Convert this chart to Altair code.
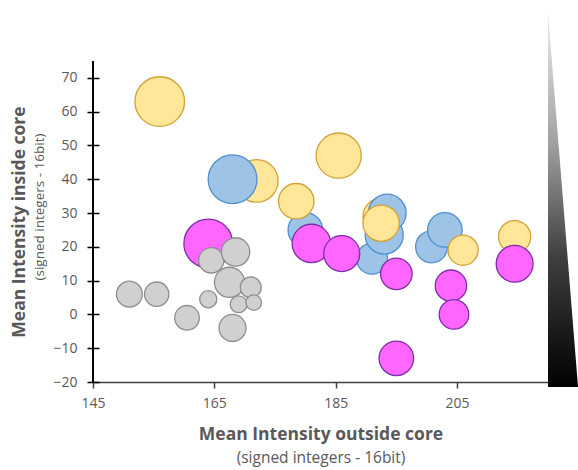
import altair as alt
import pandas as pd

# ---- data (draw order) ----
groups = (["Gold"] * 2 + ["Blue"] * 7 + ["Gold"] * 6 +
          ["Magenta"] * 8 + ["Gray"] * 11)
x_outside = [172, 192.5,
             168, 180, 191, 193, 193.5, 200.8, 203,
             156, 178.5, 185.5, 192.5, 206, 214.5,
             164, 181, 186, 195, 204, 204.5, 195, 214.5,
             151, 155.5, 160.5, 164, 164.5, 168.5, 167.5, 171, 169, 171.5, 168]
y_inside = [39.5, 29,
            40, 25, 16.5, 23.5, 30, 20, 25,
            63, 33.5, 47, 27, 19, 23,
            21, 21, 18, 12, 8.5, 0, -13, 15,
            6, 6, -1, 4.5, 16, 18.5, 9.5, 8, 3, 3.5, -4]
bubble = [576, 420,
          756, 380, 306, 462, 454, 324, 380,
          784, 400, 650, 420, 289, 331,
          756, 471, 412, 317, 313, 279, 380, 433,
          213, 188, 193, 94, 204, 256, 289, 139, 90, 77, 231]

x_ticks = [145, 165, 185, 205]
y_ticks = [-20, -10, 0, 10, 20, 30, 40, 50, 60, 70]

# decorative grey wedge to the right of the plot (outline in axis units)
wedge_y = [89.2, -21.5]
wedge_x = [220, 224.95]

x_title = "Mean Intensity outside core"
y_title = "Mean Intensity inside core"
sub_title = "(signed integers - 16bit)"

series = ["Gold", "Blue", "Magenta", "Gray"]
fills = ["#FFE699", "#9DC3E6", "#FF66FF", "#D0D0D0"]
strokes = ["#D1A235", "#4F8FCF", "#7A2FA8", "#8E8E8E"]

W, H = 455, 321
FONT = "Open Sans"
GREY_TXT = "#595959"

xscale = alt.Scale(domain=[145, 220], nice=False, zero=False)
yscale = alt.Scale(domain=[-20, 75], nice=False, zero=False)

xaxis = alt.Axis(values=x_ticks, title=None, grid=False, domainColor="#404040",
                 domainWidth=1.5, tickColor="#404040", tickWidth=1.5, tickSize=6,
                 labelFont=FONT, labelFontSize=14, labelColor=GREY_TXT,
                 labelPadding=8, labelFlush=False)
yaxis = alt.Axis(values=y_ticks, title=None, grid=False, domain=False,
                 offset=-6, tickSize=12, tickColor="#000000", tickWidth=1.5,
                 labelFont=FONT, labelFontSize=14, labelColor=GREY_TXT,
                 labelPadding=10, labelFlush=False, labelOverlap=False)

df = pd.DataFrame({
    "x": x_outside, "y": y_inside, "size": bubble, "group": groups,
    "idx": list(range(len(groups))),
})

bubbles = alt.Chart(df).mark_circle(opacity=1, strokeWidth=1.3).encode(
    x=alt.X("x:Q", scale=xscale, axis=xaxis),
    y=alt.Y("y:Q", scale=yscale, axis=yaxis),
    size=alt.Size("size:Q", scale=alt.Scale(type="linear", domain=[0, 800],
                                            range=[0, 800 * 3.1416]), legend=None),
    fill=alt.Fill("group:N", scale=alt.Scale(domain=series, range=fills), legend=None),
    stroke=alt.Stroke("group:N", scale=alt.Scale(domain=series, range=strokes), legend=None),
    order=alt.Order("idx:Q"),
)

# y axis line
yline = alt.Chart(pd.DataFrame({"a": [0]})).mark_rule(color="#000000", strokeWidth=2).encode(
    x=alt.value(0), y=alt.value(0), y2=alt.value(H)
)

wedge_df = pd.DataFrame({"v": wedge_y, "w": wedge_x})
grad = alt.Gradient(
    gradient="linear", x1=0, y1=0, x2=0, y2=1,
    stops=[alt.GradientStop(color="#ececec", offset=0),
           alt.GradientStop(color="#a0a0a0", offset=0.35),
           alt.GradientStop(color="#404040", offset=0.65),
           alt.GradientStop(color="#000000", offset=1)],
)
wedge = alt.Chart(wedge_df).mark_area(orient="horizontal", color=grad, clip=False).encode(
    y=alt.Y("v:Q", scale=yscale, axis=yaxis),
    x=alt.X("w:Q", scale=xscale, axis=xaxis),
    x2=alt.X2(datum=wedge_x[0]),
)

def label(txt, x, y, size, bold, angle=0):
    return alt.Chart(pd.DataFrame({"t": [txt]})).mark_text(
        font=FONT, fontSize=size, fontWeight="bold" if bold else "normal",
        color=GREY_TXT, angle=angle, align="center", baseline="middle",
    ).encode(text="t:N", x=alt.value(x), y=alt.value(y))

texts = [
    label(x_title, 228, 374, 17.5, True),
    label(sub_title, 228, 397, 15.5, False),
    label(y_title, -73, 161, 17.5, True, 270),
    label(sub_title, -53, 146, 13.5, False, 270),
]

chart = alt.layer(wedge, bubbles, yline, *texts).properties(
    width=W, height=H,
    background="white",
    autosize=alt.AutoSizeParams(type="none"),
    padding={"left": 93, "top": 61, "right": 30, "bottom": 88},
).configure_view(stroke=None)

chart.save("out.html", embed_options={"renderer": "svg", "actions": False})
